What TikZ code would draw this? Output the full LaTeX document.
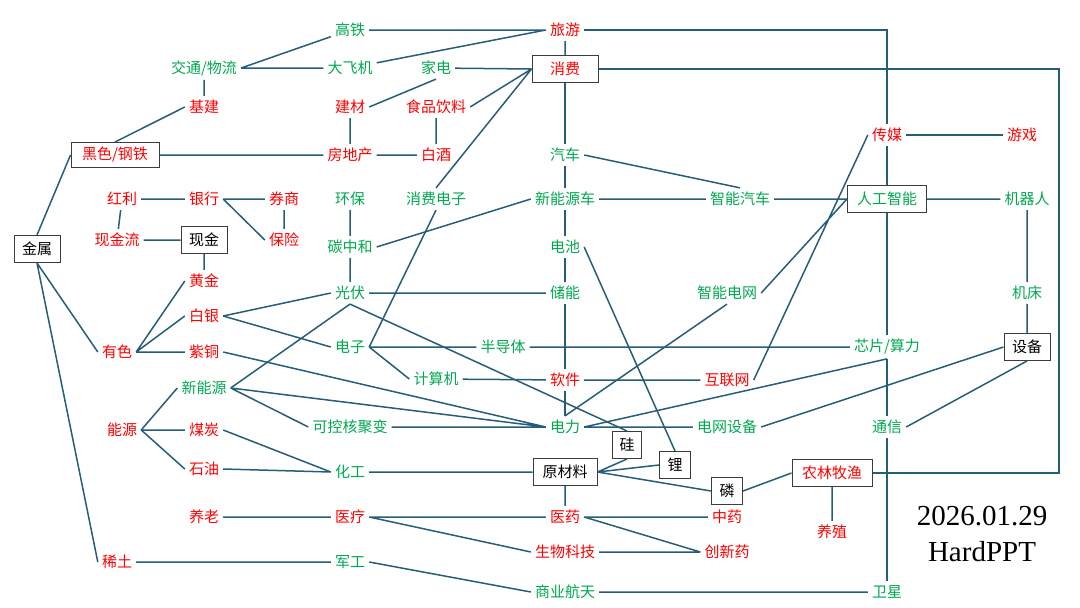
\documentclass[tikz,border=0pt]{standalone}
\usepackage{fontspec}
\newfontfamily\cjk{Noto Sans CJK SC}
\newfontfamily\datefont{Liberation Serif}
\definecolor{hot}{RGB}{255,0,0}
\definecolor{leaf}{RGB}{0,168,80}
\definecolor{wire}{RGB}{38,94,122}
\definecolor{frame}{RGB}{60,60,60}

\begin{document}
\begin{tikzpicture}[x=1pt,y=-1pt,
    lab/.style={font=\cjk\fontsize{15}{17}\selectfont,inner sep=4pt},
    redlab/.style={lab,text=hot},
    grnlab/.style={lab,text=leaf},
    box/.style={lab,draw=frame,line width=1pt,fill=white,minimum height=27pt,inner xsep=8pt,inner ysep=3pt},
    link/.style={draw=wire,line width=1.5pt}]
  \useasboundingbox (0,0) rectangle (1080,608);
  \node[grnlab] (gt) at (350,30) {高铁};
  \node[redlab] (ly) at (565,30) {旅游};
  \node[grnlab] (jt) at (204,68) {交通/物流};
  \node[grnlab] (dfj) at (350,68) {大飞机};
  \node[grnlab] (jd) at (436,68) {家电};
  \node[box,text=hot,minimum width=66pt] (xf) at (565,69) {消费};
  \node[redlab] (jj) at (204,107) {基建};
  \node[redlab] (jc) at (350,107) {建材};
  \node[redlab] (sp) at (436,107) {食品饮料};
  \node[box,text=hot,minimum height=25pt,minimum width=88pt] (hs) at (115,155) {黑色/钢铁};
  \node[redlab] (fdc) at (350,155) {房地产};
  \node[redlab] (bj) at (436,155) {白酒};
  \node[grnlab] (qc) at (565,155) {汽车};
  \node[redlab] (cm) at (887,135) {传媒};
  \node[redlab] (yx) at (1022,135) {游戏};
  \node[redlab] (hl) at (122,199) {红利};
  \node[redlab] (yh) at (204,199) {银行};
  \node[redlab] (qs) at (284,199) {券商};
  \node[grnlab] (hb) at (350,199) {环保};
  \node[grnlab] (xfdz) at (436,199) {消费电子};
  \node[grnlab] (xnyc) at (565,199) {新能源车};
  \node[grnlab] (znqc) at (740,199) {智能汽车};
  \node[box,text=leaf,minimum width=79pt] (rg) at (887,199) {人工智能};
  \node[grnlab] (jqr) at (1027,199) {机器人};
  \node[redlab] (xjl) at (117,240) {现金流};
  \node[box] (xj) at (204,240) {现金};
  \node[redlab] (bx) at (284,240) {保险};
  \node[grnlab] (tzh) at (350,247) {碳中和};
  \node[grnlab] (dc) at (565,247) {电池};
  \node[box] (js) at (37,249) {金属};
  \node[redlab] (hj) at (204,281) {黄金};
  \node[grnlab] (gf) at (350,293) {光伏};
  \node[grnlab] (cn) at (565,293) {储能};
  \node[grnlab] (zndw) at (727,293) {智能电网};
  \node[grnlab] (jcc) at (1027,293) {机床};
  \node[redlab] (by) at (204,316) {白银};
  \node[grnlab] (dz) at (350,347) {电子};
  \node[grnlab] (bdt) at (503,347) {半导体};
  \node[grnlab] (xp) at (887,347) {芯片/算力};
  \node[box] (sb) at (1027,347) {设备};
  \node[redlab] (ys) at (117,352) {有色};
  \node[redlab] (zt) at (204,352) {紫铜};
  \node[grnlab] (xny) at (204,388) {新能源};
  \node[grnlab] (jsj) at (436,379) {计算机};
  \node[redlab] (rj) at (565,380) {软件};
  \node[redlab] (hlw) at (727,380) {互联网};
  \node[redlab] (ny) at (122,430) {能源};
  \node[redlab] (mt) at (204,430) {煤炭};
  \node[grnlab] (hjb) at (350,427) {可控核聚变};
  \node[grnlab] (dl) at (565,427) {电力};
  \node[grnlab] (dwsb) at (727,427) {电网设备};
  \node[grnlab] (tx) at (887,427) {通信};
  \node[box,inner xsep=7pt] (gui) at (627,445) {硅};
  \node[box] (li) at (675,465) {锂};
  \node[box] (lin) at (727,491) {磷};
  \node[box,minimum width=64pt] (ycl) at (565,472) {原材料};
  \node[redlab] (sy) at (204,469) {石油};
  \node[grnlab] (hg) at (350,472) {化工};
  \node[box,text=hot,minimum width=80pt] (nl) at (832,473) {农林牧渔};
  \node[redlab] (yl) at (204,517) {养老};
  \node[redlab] (ylq) at (350,517) {医疗};
  \node[redlab] (yy) at (565,517) {医药};
  \node[redlab] (zy) at (727,517) {中药};
  \node[redlab] (yz) at (832,532) {养殖};
  \node[redlab] (sw) at (565,552) {生物科技};
  \node[redlab] (cxy) at (727,552) {创新药};
  \node[redlab] (xt) at (117,562) {稀土};
  \node[grnlab] (jg) at (350,562) {军工};
  \node[grnlab] (syht) at (565,592) {商业航天};
  \node[grnlab] (wx) at (887,592) {卫星};
  \node[font=\datefont\fontsize{29}{36}\selectfont,align=center] (dt) at (982,534) {2026.01.29\\HardPPT};
  \coordinate (rim) at (1059,69);
  \draw[link] (gt) -- (ly.west) (jt.east) -- (gt) (jt.east) -- (dfj) (dfj) -- (ly.west) (ly) -- (xf);
  \draw[link] (ly) -| (cm) (cm) -- (rg) (rg) -- (xp) (xp) -- (tx) (tx) -- (wx) (cm) -- (yx);
  \draw[link] (xf) -- (rim) |- (nl);
  \draw[link] (jt) -- (jj) (jj.west) -- (hs.north) (hs) -- (fdc) (jc) -- (fdc) (fdc) -- (bj) (sp) -- (bj);
  \draw[link] (jc.east) -- (jd.south) (jd) -- (xf.west) (sp.east) -- (xf.west) (xfdz.north) -- (xf.west);
  \draw[link] (xf) -- (qc) (qc) -- (xnyc) (xnyc) -- (dc) (dc) -- (cn) (cn) -- (rj) (rj) -- (dl.north);
  \draw[link] (qc.east) -- (znqc.north) (xnyc) -- (znqc) (znqc) -- (rg) (rg) -- (jqr) (jqr) -- (jcc) (jcc) -- (sb);
  \draw[link] (hlw.east) -- (cm.west) (dl.north) -- (zndw.south) (zndw.east) -- (rg.west);
  \draw[link] (dl.east) -- (xp.south) (dl) -- (dwsb) (dwsb.east) -- (sb.west) (sb.south) -- (tx.east);
  \draw[link] (hl) -- (yh) (hl) -- (xjl) (xjl) -- (xj) (yh.east) -- (qs) (yh.east) -- (bx.west) (qs) -- (bx) (xj) -- (hj);
  \draw[link] (hb) -- (tzh) (tzh) -- (gf) (gf) -- (cn) (tzh.east) -- (xnyc.west);
  \draw[link] (xfdz.south) -- (dz.east) (dz.east) -- (bdt) (bdt) -- (xp) (dz.east) -- (jsj.west) (jsj) -- (rj) (rj) -- (hlw);
  \draw[link] (by.east) -- (gf.west) (by.east) -- (dz.west) (gf.south) -- (xny.east) (gf.south) -- (gui.north);
  \draw[link] (zt.east) -- (dl.west) (xny.east) -- (dl.west) (xny.east) -- (hjb.west) (hjb) -- (dl.west);
  \draw[link] (ys.east) -- (hj.west) (ys.east) -- (by.west) (ys.east) -- (zt.west);
  \draw[link] (js.north) -- (hs.west) (js.south) -- (ys.west) (js.south) -- (xt.west);
  \draw[link] (ny.east) -- (xny.west) (ny.east) -- (mt.west) (ny.east) -- (sy.west) (mt.east) -- (hg.west) (sy.east) -- (hg.west);
  \draw[link] (hg) -- (ycl) (ycl.east) -- (gui.south) (ycl.east) -- (li.west) (ycl.east) -- (lin.west) (dc.east) -- (li.north);
  \draw[link] (lin.east) -- (nl.west) (nl) -- (yz) (ycl) -- (yy);
  \draw[link] (yl) -- (ylq) (ylq) -- (yy) (yy) -- (zy) (ylq.east) -- (sw.west) (yy.east) -- (cxy.west) (sw) -- (cxy);
  \draw[link] (xt) -- (jg) (jg.east) -- (syht.west) (syht) -- (wx);
\end{tikzpicture}
\end{document}
